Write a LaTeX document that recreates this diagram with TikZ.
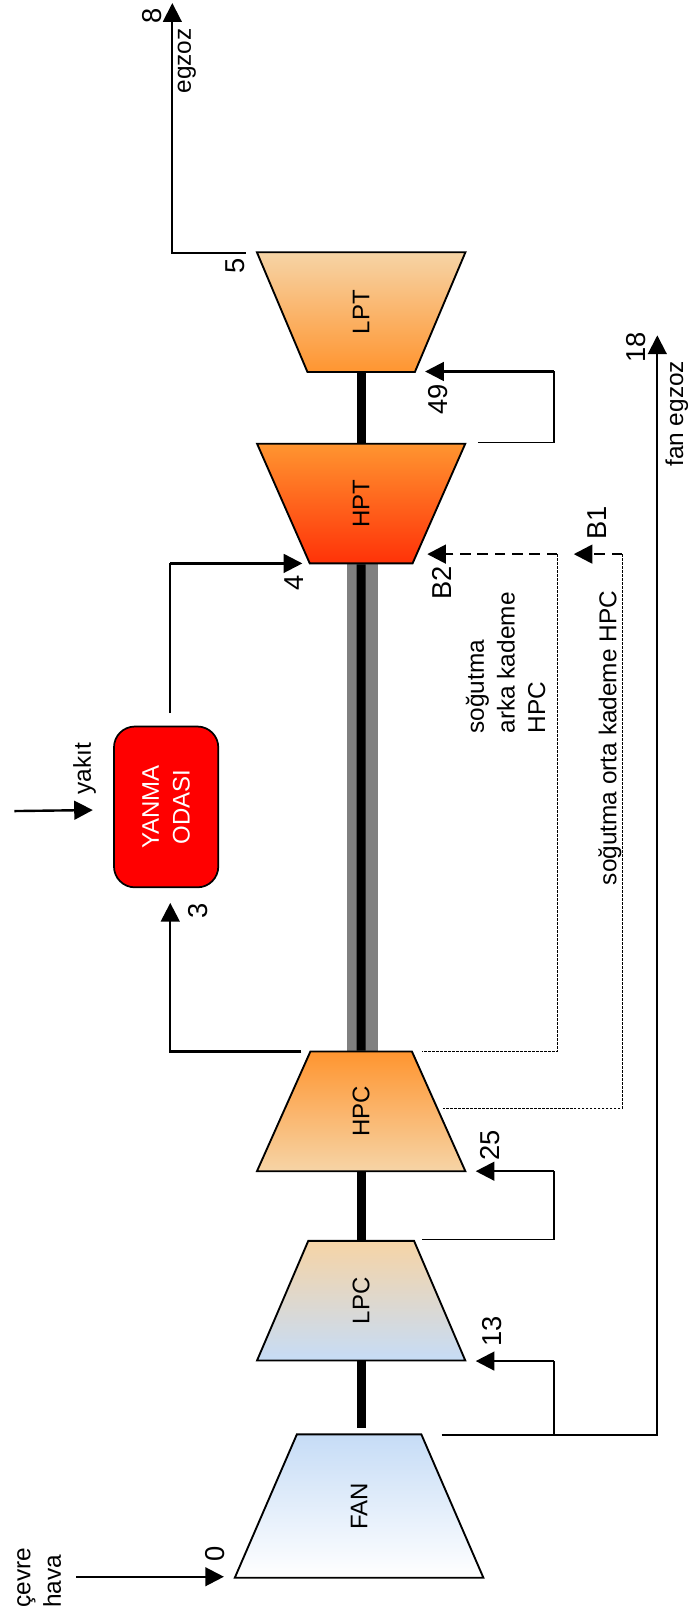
\documentclass[tikz,border=0pt]{standalone}
\usepackage{fontspec}
\setmainfont{Liberation Sans}
\usepackage{tikz}
\usetikzlibrary{arrows.meta,positioning,calc,shapes.geometric}
\definecolor{airblue}{HTML}{C6DCF6}
\definecolor{paletan}{HTML}{F6D4A6}
\definecolor{hotorange}{HTML}{FF9530}
\definecolor{hotred}{HTML}{FF3208}
\newcommand{\stagetext}[1]{\rotatebox{90}{#1}}
\tikzset{
  stage/.style={draw,line width=1.4pt,trapezium,trapezium left angle=80,trapezium right angle=80,
    trapezium stretches=true,inner sep=0pt,minimum width=5.5cm,minimum height=3.155cm,
    font=\fontsize{18}{20}\selectfont},
  turbine/.style={stage,shape border rotate=180},
  lbl/.style={rotate=90,inner sep=0pt,font=\fontsize{18.3}{23}\selectfont,align=left},
  num/.style={lbl,font=\fontsize{20.5}{23}\selectfont},
  flow/.style={line width=1.8pt,-{Triangle[length=14pt,width=14pt]}},
  pipe/.style={line width=1.2pt},
  bleed/.style={flow,line width=2pt,dash pattern=on 8pt off 5pt},
  tap/.style={line width=0.5pt,dash pattern=on 2pt off 1pt},
  shaft/.style={line width=6.7pt}
}
\begin{document}
\begin{tikzpicture}[>=Latex,x=0.0272cm,y=-0.0272cm]
\useasboundingbox (0,0) rectangle (672,1568);
% spool
\fill[gray] (336,546) rectangle (366,1019);
% stages
\node[turbine,top color=paletan,bottom color=hotorange] (lpt) at (350,302.5) {\stagetext{LPT}};
\node[turbine,top color=hotorange,bottom color=hotred] (hpt) at (350,488) {\stagetext{HPT}};
\node[stage,top color=hotorange,bottom color=paletan] (hpc) at (350,1077) {\stagetext{HPC}};
\node[stage,top color=paletan,bottom color=airblue] (lpc) at (350,1260.5) {\stagetext{LPC}};
\node[stage,top color=airblue,bottom color=white,minimum width=6.56cm,minimum height=3.78cm] (fan) at (348,1459.5) {\stagetext{FAN}};
\node[draw,line width=1.3pt,fill=red,rectangle,rounded corners=5.5mm,rotate=90,text=white,align=center,
  inner sep=0pt,minimum width=4.24cm,minimum height=2.75cm,font=\fontsize{18}{23}\selectfont] (burner) at (161,782) {YANMA\\ODASI};
% shaft
\draw[shaft] (lpt.south) -- (hpt.north);
\draw[shaft] (hpt.south) -- (hpc.north);
\draw[shaft] (hpc.south) -- (lpc.north);
\draw[shaft,shorten >=4pt] (lpc.south) -- (lpc.south |- fan.north);
% stations
\coordinate (st0a) at (74,1528);
\coordinate (st0b) at (217,1528);
\coordinate (fuela) at (14,786);
\coordinate (fuelb) at (90,785);
\coordinate (st3a) at (292,1019);
\coordinate (st3b) at (165,875);
\coordinate (st4a) at (165,691);
\coordinate (st4c) at (165,546);
\coordinate (st4b) at (293,546);
\coordinate (st5) at (238,245);
\coordinate (st8) at (167,3);
\coordinate (st49a) at (463,429);
\coordinate (st49c) at (537,429);
\coordinate (st49d) at (537,360);
\coordinate (st49b) at (412,360);
\coordinate (st25a) at (409,1201);
\coordinate (st25c) at (537,1201);
\coordinate (st25d) at (537,1135);
\coordinate (st25b) at (461,1135);
\coordinate (st13c) at (537,1391);
\coordinate (st13d) at (537,1319);
\coordinate (st13b) at (461,1319);
\coordinate (st18a) at (428,1391);
\coordinate (st18b) at (637,325);
\coordinate (b2a) at (540,537);
\coordinate (b2b) at (414,537);
\coordinate (b1a) at (603,537);
\coordinate (b1b) at (556,537);
\coordinate (b2t) at (409,1019);
\coordinate (b1t) at (429,1074);
% connectors
\draw[flow] (st0a) -- (st0b);
\draw[flow] (fuela) -- (fuelb);
\draw[flow] (st3a) -| (st3b);
\draw[pipe] (st4a) -- (st4c);
\draw[flow] (st4c) -- (st4b);
\draw[flow,line width=1.4pt] (st5) -| (st8);
\draw[pipe] (st49a) -- (st49c) -- (st49d);
\draw[flow] (st49d) -- (st49b);
\draw[pipe] (st25a) -- (st25c) -- (st25d);
\draw[flow] (st25d) -- (st25b);
\draw[pipe] (st13c) -- (st13d);
\draw[flow] (st13d) -- (st13b);
\draw[flow,line width=1.5pt] (st18a) -| (st18b);
\draw[bleed] (b2a) -- (b2b);
\draw[bleed] (b1a) -- (b1b);
\draw[tap] (b2a) |- (b2t);
\draw[tap] (b1a) |- (b1t);
% labels
\node[num] (n8) at (147,15) {8};
\node[lbl] (nexh) at (181,59) {egzoz};
\node[num] (n5) at (228,258) {5};
\node[num] (n49) at (425,387) {49};
\node[num] (nb1) at (579,507) {B1};
\node[num] (nb2) at (428,565) {B2};
\node[num] (n4) at (285,565) {4};
\node[lbl] (nfuel) at (82,745) {yakıt};
\node[num] (n3) at (192,883) {3};
\node[num] (n25) at (475,1110) {25};
\node[num] (n13) at (477,1290) {13};
\node[num] (n18) at (616,337) {18};
\node[lbl] (nfanexh) at (656,401) {fan egzoz};
\node[num] (n0) at (208,1506) {0};
\node[lbl] (nair) at (38,1529) {çevre\\hava};
\node[lbl,anchor=west] (ncoolb) at (490,711) {soğutma\\arka kademe\\HPC};
\node[lbl,anchor=west] (ncoolm) at (591,858) {soğutma orta kademe HPC};
\end{tikzpicture}
\end{document}
